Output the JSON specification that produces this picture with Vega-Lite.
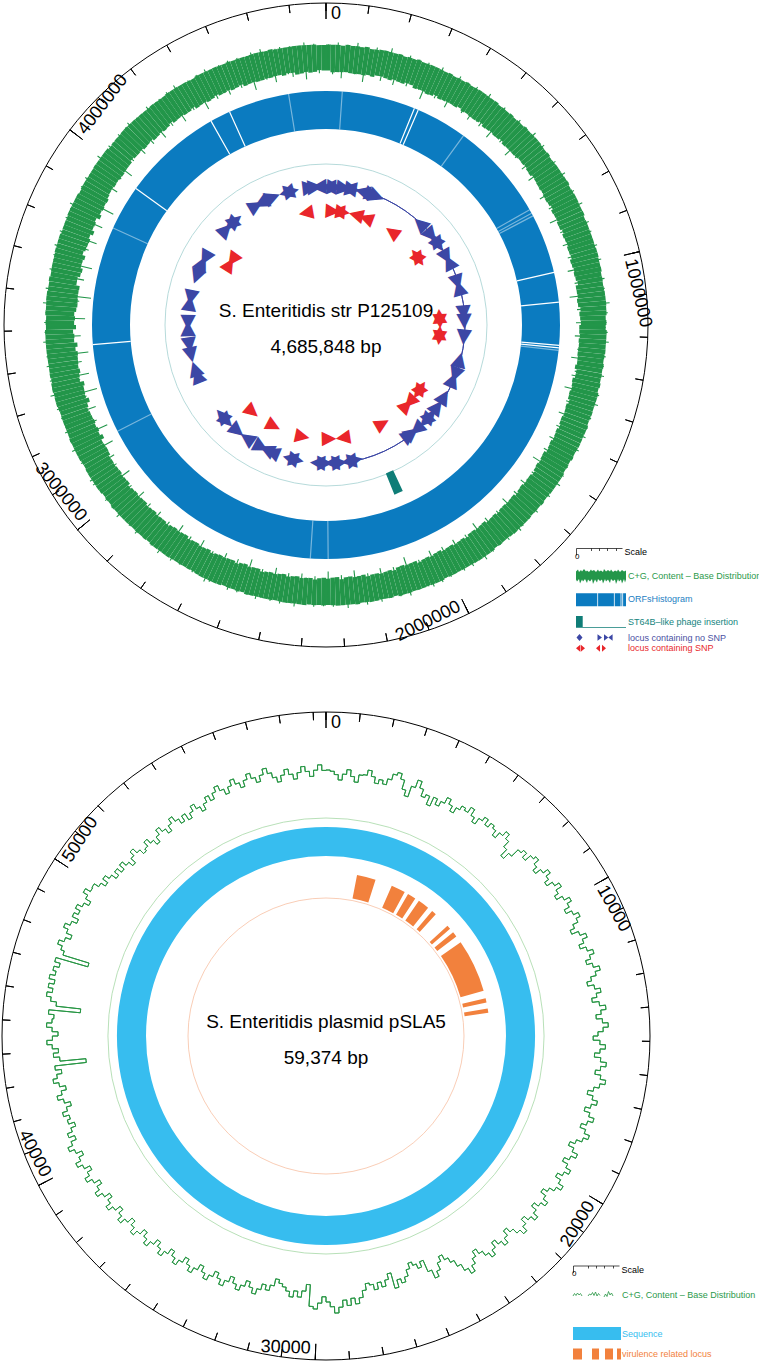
{
"$schema": "https://vega.github.io/schema/vega-lite/v6.json",
"padding": 0,
"spacing": 61,
"bounds": "flush",
"config": {"view": {"stroke": null}, "text": {"font": "Liberation Sans"}},
"resolve": {"scale": {"theta": "independent", "radius": "independent", "angle": "independent", "fill": "independent", "color": "independent", "stroke": "independent", "strokeOpacity": "independent"}},
"vconcat": [
{
"width": 650, "height": 650,
"resolve": {"scale": {"theta": "independent", "radius": "independent", "angle": "independent"}},
"layer": [
{
"data": {"values": [
{"i":0,"a":47.9,"b":56.2},{"i":1,"a":46.3,"b":55.5},{"i":2,"a":48.4,"b":56.9},{"i":3,"a":45.1,"b":55.8},{"i":4,"a":47.6,"b":56.4},{"i":5,"a":48.2,"b":55.3},{"i":6,"a":46.8,"b":57.3},{"i":7,"a":47.3,"b":55.9},{"i":8,"a":44.6,"b":56.1},{"i":9,"a":48.0,"b":55.6},
{"i":10,"a":47.2,"b":56.7},{"i":11,"a":48.5,"b":55.4},{"i":12,"a":46.0,"b":56.0},{"i":13,"a":47.8,"b":57.5},{"i":14,"a":48.3,"b":55.7},{"i":15,"a":45.7,"b":56.3},{"i":16,"a":47.4,"b":55.2},{"i":17,"a":48.1,"b":56.8},{"i":18,"a":46.6,"b":55.9},{"i":19,"a":47.7,"b":56.5},
{"i":20,"a":48.6,"b":55.8},{"i":21,"a":46.9,"b":56.6},{"i":22,"a":44.2,"b":55.5},{"i":23,"a":48.0,"b":56.1},{"i":24,"a":47.5,"b":57.0},{"i":25,"a":46.4,"b":55.6},{"i":26,"a":48.2,"b":56.2},{"i":27,"a":47.1,"b":55.3},{"i":28,"a":45.3,"b":56.9},{"i":29,"a":48.4,"b":55.7},
{"i":30,"a":47.3,"b":56.4},{"i":31,"a":48.1,"b":55.9},{"i":32,"a":46.5,"b":56.7},{"i":33,"a":47.9,"b":55.4},{"i":34,"a":45.8,"b":56.0},{"i":35,"a":48.3,"b":57.2},{"i":36,"a":47.0,"b":55.8},{"i":37,"a":46.2,"b":56.3},{"i":38,"a":48.5,"b":55.5},{"i":39,"a":47.6,"b":56.6},
{"i":40,"a":45.0,"b":55.6},{"i":41,"a":48.2,"b":56.2},{"i":42,"a":47.4,"b":55.9},{"i":43,"a":46.7,"b":56.8},{"i":44,"a":48.0,"b":55.3},{"i":45,"a":47.2,"b":56.5},{"i":46,"a":44.9,"b":55.7},{"i":47,"a":48.4,"b":57.4},{"i":48,"a":46.8,"b":56.1},{"i":49,"a":47.7,"b":55.8},
{"i":50,"a":48.3,"b":56.9},{"i":51,"a":46.1,"b":55.5},{"i":52,"a":47.8,"b":56.3},{"i":53,"a":48.1,"b":55.8},{"i":54,"a":45.6,"b":56.6},{"i":55,"a":47.5,"b":55.2},{"i":56,"a":48.6,"b":56.0},{"i":57,"a":46.9,"b":57.1},{"i":58,"a":47.2,"b":55.7},{"i":59,"a":45.4,"b":56.4},
{"i":60,"a":48.0,"b":55.9},{"i":61,"a":47.3,"b":56.7},{"i":62,"a":46.4,"b":55.4},{"i":63,"a":48.2,"b":56.2},{"i":64,"a":47.7,"b":57.3},{"i":65,"a":44.7,"b":55.8},{"i":66,"a":48.4,"b":56.1},{"i":67,"a":47.0,"b":55.6},{"i":68,"a":46.6,"b":56.8},{"i":69,"a":48.1,"b":55.3},
{"i":70,"a":47.4,"b":56.5},{"i":71,"a":45.9,"b":56.0},{"i":72,"a":48.3,"b":55.7},{"i":73,"a":47.6,"b":56.9},{"i":74,"a":46.3,"b":55.5},{"i":75,"a":48.0,"b":56.3},{"i":76,"a":47.1,"b":57.0},{"i":77,"a":45.2,"b":55.9},{"i":78,"a":48.5,"b":56.2},{"i":79,"a":47.8,"b":55.6},
{"i":80,"a":46.7,"b":56.8},{"i":81,"a":48.2,"b":55.4},{"i":82,"a":47.5,"b":56.4},{"i":83,"a":44.4,"b":55.8},{"i":84,"a":48.1,"b":56.1},{"i":85,"a":47.3,"b":57.5},{"i":86,"a":46.5,"b":55.6},{"i":87,"a":48.4,"b":56.7},{"i":88,"a":47.9,"b":55.3},{"i":89,"a":46.0,"b":56.2},
{"i":90,"a":48.3,"b":55.9},{"i":91,"a":47.6,"b":56.6},{"i":92,"a":45.7,"b":55.5},{"i":93,"a":48.0,"b":57.1},{"i":94,"a":47.2,"b":56.0},{"i":95,"a":46.8,"b":55.7},{"i":96,"a":48.5,"b":56.5},{"i":97,"a":45.1,"b":55.8},{"i":98,"a":47.7,"b":56.3},{"i":99,"a":48.2,"b":55.4},
{"i":100,"a":47.0,"b":56.9},{"i":101,"a":46.2,"b":55.6},{"i":102,"a":48.4,"b":56.2},{"i":103,"a":47.5,"b":55.9},{"i":104,"a":44.8,"b":56.7},{"i":105,"a":48.1,"b":55.3},{"i":106,"a":47.3,"b":57.2},{"i":107,"a":46.6,"b":56.0},{"i":108,"a":48.0,"b":55.5},{"i":109,"a":47.8,"b":56.4},
{"i":110,"a":45.5,"b":55.8},{"i":111,"a":48.3,"b":56.5},{"i":112,"a":47.1,"b":55.7},{"i":113,"a":46.4,"b":57.0},{"i":114,"a":48.2,"b":56.1},{"i":115,"a":47.6,"b":55.4},{"i":116,"a":45.9,"b":56.8},{"i":117,"a":48.0,"b":55.9},{"i":118,"a":47.4,"b":56.3},{"i":119,"a":46.1,"b":55.6},
{"i":120,"a":48.5,"b":56.2},{"i":121,"a":47.2,"b":55.5},{"i":122,"a":44.5,"b":56.6},{"i":123,"a":48.1,"b":55.8},{"i":124,"a":47.7,"b":57.3},{"i":125,"a":46.9,"b":56.0},{"i":126,"a":48.3,"b":55.4},{"i":127,"a":47.0,"b":56.7},{"i":128,"a":45.6,"b":55.9},{"i":129,"a":48.2,"b":56.4},
{"i":130,"a":47.5,"b":55.7},{"i":131,"a":46.3,"b":56.9},{"i":132,"a":48.0,"b":55.6},{"i":133,"a":47.8,"b":56.3},{"i":134,"a":45.2,"b":55.9},{"i":135,"a":48.4,"b":56.5},{"i":136,"a":47.1,"b":57.1},{"i":137,"a":46.7,"b":55.5},{"i":138,"a":48.2,"b":56.0},{"i":139,"a":47.3,"b":56.8},
{"i":140,"a":46.0,"b":55.4},{"i":141,"a":48.1,"b":56.2},{"i":142,"a":47.6,"b":55.8},{"i":143,"a":44.9,"b":56.6},{"i":144,"a":48.3,"b":55.5},{"i":145,"a":47.2,"b":57.4},{"i":146,"a":46.5,"b":56.1},{"i":147,"a":48.0,"b":55.7},{"i":148,"a":47.9,"b":56.9},{"i":149,"a":45.8,"b":55.3},
{"i":150,"a":48.2,"b":56.7},{"i":151,"a":47.4,"b":56.0},{"i":152,"a":46.1,"b":55.6},{"i":153,"a":48.5,"b":56.4},{"i":154,"a":47.0,"b":55.9},{"i":155,"a":45.4,"b":56.8},{"i":156,"a":48.1,"b":55.2},{"i":157,"a":47.7,"b":57.0},{"i":158,"a":46.8,"b":56.3},{"i":159,"a":48.3,"b":55.8},
{"i":160,"a":47.1,"b":56.1},{"i":161,"a":44.3,"b":55.7},{"i":162,"a":48.0,"b":57.2},{"i":163,"a":47.5,"b":55.6},{"i":164,"a":46.4,"b":56.5},{"i":165,"a":48.2,"b":55.9},{"i":166,"a":47.8,"b":56.2},{"i":167,"a":45.7,"b":55.4},{"i":168,"a":48.4,"b":56.8},{"i":169,"a":47.3,"b":56.0},
{"i":170,"a":46.6,"b":55.5},{"i":171,"a":48.1,"b":56.9},{"i":172,"a":47.2,"b":55.8},{"i":173,"a":45.0,"b":56.3},{"i":174,"a":48.3,"b":55.6},{"i":175,"a":47.6,"b":57.3},{"i":176,"a":46.2,"b":56.0},{"i":177,"a":48.0,"b":55.7},{"i":178,"a":47.4,"b":56.6},{"i":179,"a":44.8,"b":55.9},
{"i":180,"a":48.2,"b":56.4},{"i":181,"a":47.7,"b":55.3},{"i":182,"a":46.5,"b":56.7},{"i":183,"a":48.4,"b":55.9},{"i":184,"a":47.1,"b":56.2},{"i":185,"a":45.9,"b":55.6},{"i":186,"a":48.1,"b":57.1},{"i":187,"a":47.5,"b":56.0},{"i":188,"a":46.3,"b":55.5},{"i":189,"a":48.0,"b":56.8},
{"i":190,"a":47.3,"b":55.8},{"i":191,"a":45.3,"b":56.5},{"i":192,"a":48.2,"b":55.4},{"i":193,"a":47.8,"b":56.1},{"i":194,"a":46.7,"b":57.0},{"i":195,"a":48.5,"b":55.7},{"i":196,"a":47.0,"b":56.3},{"i":197,"a":44.6,"b":55.9},{"i":198,"a":48.3,"b":56.6},{"i":199,"a":47.6,"b":55.2},
{"i":200,"a":46.0,"b":56.9},{"i":201,"a":48.1,"b":55.6},{"i":202,"a":47.4,"b":56.2},{"i":203,"a":45.6,"b":55.8},{"i":204,"a":48.0,"b":56.7},{"i":205,"a":47.2,"b":57.4},{"i":206,"a":46.9,"b":55.5},{"i":207,"a":48.4,"b":56.0},{"i":208,"a":47.7,"b":56.4},{"i":209,"a":45.1,"b":55.9},
{"i":210,"a":48.3,"b":55.7},{"i":211,"a":47.5,"b":56.3},{"i":212,"a":46.3,"b":55.9},{"i":213,"a":48.1,"b":56.8},{"i":214,"a":47.0,"b":55.4},{"i":215,"a":44.7,"b":56.1},{"i":216,"a":48.2,"b":57.2},{"i":217,"a":47.8,"b":55.6},{"i":218,"a":46.5,"b":56.5},{"i":219,"a":48.5,"b":56.0},
{"i":220,"a":47.2,"b":56.2},{"i":221,"a":45.8,"b":55.5},{"i":222,"a":48.0,"b":56.9},{"i":223,"a":47.6,"b":55.8},{"i":224,"a":46.1,"b":56.4},{"i":225,"a":48.3,"b":55.7},{"i":226,"a":47.3,"b":56.0},{"i":227,"a":45.0,"b":57.3},{"i":228,"a":48.1,"b":55.9},{"i":229,"a":47.4,"b":56.6},
{"i":230,"a":46.7,"b":55.4},{"i":231,"a":48.4,"b":56.7},{"i":232,"a":47.1,"b":55.8},{"i":233,"a":44.2,"b":56.3},{"i":234,"a":48.2,"b":55.6},{"i":235,"a":47.7,"b":56.9},{"i":236,"a":46.4,"b":57.0},{"i":237,"a":48.0,"b":55.5},{"i":238,"a":45.5,"b":56.2},{"i":239,"a":47.5,"b":55.9},
{"i":240,"a":48.1,"b":56.5},{"i":241,"a":43.6,"b":55.7},{"i":242,"a":47.3,"b":56.1},{"i":243,"a":46.2,"b":57.2},{"i":244,"a":48.3,"b":55.8},{"i":245,"a":42.8,"b":56.4},{"i":246,"a":47.6,"b":55.6},{"i":247,"a":45.4,"b":56.8},{"i":248,"a":48.0,"b":56.0},{"i":249,"a":46.8,"b":55.4},
{"i":250,"a":44.1,"b":56.3},{"i":251,"a":48.2,"b":55.9},{"i":252,"a":47.0,"b":56.7},{"i":253,"a":45.9,"b":55.5},{"i":254,"a":41.9,"b":56.2},{"i":255,"a":48.4,"b":57.5},{"i":256,"a":47.5,"b":55.8},{"i":257,"a":46.6,"b":56.1},{"i":258,"a":43.3,"b":56.6},{"i":259,"a":48.1,"b":55.7},
{"i":260,"a":47.2,"b":56.0},{"i":261,"a":45.0,"b":56.8},{"i":262,"a":48.3,"b":55.6},{"i":263,"a":42.4,"b":56.4},{"i":264,"a":47.7,"b":55.9},{"i":265,"a":46.3,"b":56.2},{"i":266,"a":48.0,"b":57.1},{"i":267,"a":44.5,"b":55.7},{"i":268,"a":47.4,"b":56.5},{"i":269,"a":46.9,"b":55.8},
{"i":270,"a":48.2,"b":56.6},{"i":271,"a":43.0,"b":55.5},{"i":272,"a":47.6,"b":56.3},{"i":273,"a":46.1,"b":55.8},{"i":274,"a":48.4,"b":57.3},{"i":275,"a":45.3,"b":56.0},{"i":276,"a":41.5,"b":55.7},{"i":277,"a":47.9,"b":56.9},{"i":278,"a":46.7,"b":55.6},{"i":279,"a":48.1,"b":56.2},
{"i":280,"a":44.7,"b":55.9},{"i":281,"a":47.3,"b":56.7},{"i":282,"a":48.0,"b":55.4},{"i":283,"a":42.9,"b":56.1},{"i":284,"a":46.5,"b":56.5},{"i":285,"a":48.3,"b":55.8},{"i":286,"a":47.1,"b":57.0},{"i":287,"a":45.6,"b":56.3},{"i":288,"a":48.2,"b":55.6},{"i":289,"a":43.8,"b":56.8},
{"i":290,"a":47.5,"b":56.0},{"i":291,"a":46.2,"b":55.7},{"i":292,"a":48.1,"b":56.6},{"i":293,"a":44.0,"b":55.9},{"i":294,"a":47.8,"b":56.4},{"i":295,"a":46.8,"b":57.2},{"i":296,"a":48.4,"b":55.5},{"i":297,"a":42.6,"b":56.2},{"i":298,"a":47.2,"b":55.8},{"i":299,"a":46.4,"b":56.5},
{"i":300,"a":48.0,"b":55.6},{"i":301,"a":47.4,"b":56.8},{"i":302,"a":45.2,"b":56.1},{"i":303,"a":48.3,"b":55.7},{"i":304,"a":47.0,"b":56.3},{"i":305,"a":46.5,"b":55.9},{"i":306,"a":48.2,"b":57.4},{"i":307,"a":44.3,"b":56.0},{"i":308,"a":47.7,"b":55.5},{"i":309,"a":48.1,"b":56.6},
{"i":310,"a":46.9,"b":56.2},{"i":311,"a":48.4,"b":55.4},{"i":312,"a":47.3,"b":56.7},{"i":313,"a":45.7,"b":55.8},{"i":314,"a":48.0,"b":56.5},{"i":315,"a":47.6,"b":57.1},{"i":316,"a":46.0,"b":55.9},{"i":317,"a":48.2,"b":56.3},{"i":318,"a":47.1,"b":55.6},{"i":319,"a":44.9,"b":56.0},
{"i":320,"a":48.3,"b":56.9},{"i":321,"a":47.5,"b":55.7},{"i":322,"a":46.4,"b":56.1},{"i":323,"a":48.1,"b":56.4},{"i":324,"a":47.8,"b":55.5},{"i":325,"a":45.1,"b":56.8},{"i":326,"a":48.4,"b":55.8},{"i":327,"a":47.2,"b":57.3},{"i":328,"a":46.7,"b":56.0},{"i":329,"a":48.0,"b":55.6},
{"i":330,"a":47.3,"b":56.3},{"i":331,"a":44.6,"b":55.9},{"i":332,"a":48.2,"b":56.6},{"i":333,"a":47.6,"b":55.5},{"i":334,"a":46.2,"b":57.0},{"i":335,"a":48.5,"b":56.2},{"i":336,"a":47.0,"b":55.7},{"i":337,"a":45.8,"b":56.4},{"i":338,"a":48.1,"b":55.9},{"i":339,"a":47.4,"b":56.7},
{"i":340,"a":46.5,"b":55.8},{"i":341,"a":48.0,"b":56.5},{"i":342,"a":47.7,"b":55.6},{"i":343,"a":44.4,"b":56.1},{"i":344,"a":48.3,"b":56.9},{"i":345,"a":47.1,"b":55.4},{"i":346,"a":46.8,"b":57.2},{"i":347,"a":48.2,"b":56.0},{"i":348,"a":45.3,"b":55.7},{"i":349,"a":47.9,"b":56.3},
{"i":350,"a":48.4,"b":56.6},{"i":351,"a":47.2,"b":55.9},{"i":352,"a":46.1,"b":56.4},{"i":353,"a":48.0,"b":55.7},{"i":354,"a":47.5,"b":56.2},{"i":355,"a":44.8,"b":57.1},{"i":356,"a":48.2,"b":55.8},{"i":357,"a":47.8,"b":56.5},{"i":358,"a":46.6,"b":55.6},{"i":359,"a":48.1,"b":56.0}
]},
"resolve": {"scale": {"theta": "independent"}},
"layer": [
{
"transform": [
{"window": [{"op": "mean", "field": "a", "as": "ma"}, {"op": "mean", "field": "b", "as": "mb"}], "frame": [-2, 2], "sort": [{"field": "i", "order": "ascending"}]},
{"window": [{"op": "row_number", "as": "n"}], "sort": [{"field": "i", "order": "ascending"}]}
],
"mark": {"type": "arc"},
"encoding": {
"theta": {"field": "i", "type": "quantitative", "stack": null, "scale": {"domain": [0, 360]}},
"theta2": {"field": "n"},
"radius": {"field": "mb", "type": "quantitative", "scale": {"type": "linear", "zero": false, "domain": [36, 64], "range": [220, 304]}},
"radius2": {"field": "ma"},
"fill": {"datum": "C+G, Content – Base Distribution", "type": "nominal",
"scale": {"domain": ["C+G, Content – Base Distribution", "ORFsHistogram", "ST64B–like phage insertion"], "range": ["#23964a", "#0b7bc0", "#0f7d77"]},
"legend": {"orient": "none", "legendX": 570.5, "legendY": 571, "title": null, "padding": 0, "rowPadding": 8.8, "symbolSize": 4, "symbolStrokeWidth": 0, "labelOffset": 47.5, "labelFont": "Liberation Sans", "labelFontSize": 9, "labelLimit": 300,
"symbolType": {"expr": "datum.value == 'ORFsHistogram' ? 'M0,-6H21.3V7H0Z M22.1,-6H37.9V7H22.1Z M38.7,-6H44.6V7H38.7Z M45.4,-6H46.3V7H45.4Z M47.1,-6H50V7H47.1Z' : indexof(datum.value, 'ST64B') == 0 ? 'M0,-6H6.7V5.6H0Z M6.7,5H50V5.6H6.7Z' : 'M0,-4L2,-6L3,-3.5L5,-5.5L6,-4L8,-6.5L10,-4L11,-5L13,-3.5L15,-6L16,-4.5L18,-5.5L20,-3.5L22,-6L23,-4L25,-5L27,-3.5L28,-6.5L30,-4L32,-5.5L34,-4L35,-6L37,-3.5L39,-5L41,-4L42,-6L44,-3.5L46,-5.5L48,-4L50,-5L50,4L49,7L48,3.5L46,8L45,4L43,6L42,3.5L40,8.5L39,4L37,5.5L35,3.5L34,7.5L32,4L30,6L29,3.5L27,8L26,4L24,5.5L22,3.5L21,7L19,4L17,8.5L16,3.5L14,6L12,4L11,7.5L9,3.5L7,6L6,4L4,8L3,3.5L1,6L0,4Z'"},
"labelColor": {"expr": "datum.value == 'ORFsHistogram' ? '#2380c2' : indexof(datum.value, 'ST64B') == 0 ? '#14847e' : '#2b9a4b'"}}}
}
},
{
"mark": {"type": "arc", "fill": "transparent", "stroke": "#23964a", "strokeWidth": 1.1},
"encoding": {
"theta": {"field": "i", "type": "quantitative", "stack": null, "scale": {"domain": [-0.5, 359.5]}},
"theta2": {"field": "i"},
"radius": {"field": "b", "type": "quantitative"},
"radius2": {"field": "a"}
}
}
]
},
{
"data": {"values": [{}]},
"mark": {"type": "arc", "theta": 0, "theta2": 6.2832, "radius": 234, "radius2": 196},
"encoding": {"fill": {"datum": "ORFsHistogram", "type": "nominal"}}
},
{
"data": {"values": [
{"p":289000,"k":"w"},{"p":302000,"k":"w"},{"p":1002200,"k":"w"},{"p":1098600,"k":"w"},{"p":1236500,"k":"w"},{"p":1244400,"k":"w"},{"p":3451900,"k":"w"},{"p":3979000,"k":"w"},{"p":4303000,"k":"w"},{"p":4369000,"k":"w"},
{"p":468600,"k":"f"},{"p":787500,"k":"f"},{"p":800500,"k":"f"},{"p":809600,"k":"f"},{"p":1252200,"k":"f"},{"p":3833300,"k":"f"},{"p":3163000,"k":"f"},{"p":52000,"k":"f"},{"p":4566000,"k":"f"},{"p":2393000,"k":"f"},{"p":2336000,"k":"f"}
]},
"mark": {"type": "arc", "radius": 234, "radius2": 196, "fill": "transparent", "stroke": "#ffffff", "strokeWidth": 1.2},
"encoding": {
"theta": {"field": "p", "type": "quantitative", "stack": null, "scale": {"domain": [0, 4685848]}},
"theta2": {"field": "p"},
"strokeOpacity": {"field": "k", "type": "nominal", "scale": {"domain": ["w", "f"], "range": [1, 0.45]}, "legend": null}
}
},
{
"data": {"values": [{}]},
"mark": {"type": "arc", "theta": 0, "theta2": 6.2832, "radius": 161, "radius2": 0, "fill": "transparent", "stroke": "#a3d0d0", "strokeWidth": 0.8},
"encoding": {}
},
{
"data": {"values": [{"p1": 2020000, "p2": 2057000}]},
"mark": {"type": "arc", "radius": 183, "radius2": 160},
"encoding": {
"theta": {"field": "p1", "type": "quantitative", "stack": null, "scale": {"domain": [0, 4685848]}},
"theta2": {"field": "p2"},
"fill": {"datum": "ST64B–like phage insertion", "type": "nominal"}
}
},
{
"data": {"values": [{"p1": 273000, "p2": 2200000}]},
"mark": {"type": "arc", "radius": 139, "radius2": 139, "fill": "transparent", "stroke": "#3c47a5", "strokeWidth": 1},
"encoding": {
"theta": {"field": "p1", "type": "quantitative", "stack": null, "scale": {"domain": [0, 4685848]}},
"theta2": {"field": "p2"}
}
},
{
"data": {"values": [
{"p":4600000,"g":"▶"},{"p":4627000,"g":"▶"},{"p":4647000,"g":"◀"},{"p":13000,"g":"◀"},{"p":46000,"g":"▶"},{"p":98000,"g":"▶"},{"p":124000,"g":"◀"},{"p":143200,"g":"▶"},{"p":199000,"g":"◀"},{"p":254000,"g":"▶"},{"p":280000,"g":"▶"},
{"p":560000,"g":"◀"},{"p":644300,"g":"▶"},{"p":676800,"g":"◀"},{"p":709400,"g":"▶"},{"p":787500,"g":"▶"},{"p":820000,"g":"◀"},{"p":937200,"g":"▶"},{"p":969700,"g":"◀"},{"p":1106400,"g":"▶"},{"p":1151900,"g":"▶"},{"p":1236500,"g":"▶"},
{"p":1362800,"g":"◀"},{"p":1444800,"g":"▶"},{"p":1477300,"g":"◀"},{"p":1580200,"g":"◀"},{"p":1645300,"g":"◀"},{"p":1705100,"g":"◀"},{"p":1744200,"g":"▶"},{"p":1809300,"g":"▶"},{"p":1841800,"g":"◀"},{"p":1861300,"g":"◀"},
{"p":2186700,"g":"◀"},{"p":2219300,"g":"▶"},{"p":2271300,"g":"◀"},{"p":2310400,"g":"▶"},{"p":2349400,"g":"◀"},{"p":2388500,"g":"▶"},{"p":2505600,"g":"◀"},{"p":2538200,"g":"▶"},{"p":2642300,"g":"▶"},{"p":2674800,"g":"▶"},{"p":2707400,"g":"◀"},
{"p":2797200,"g":"▶"},{"p":2863600,"g":"◀"},{"p":2941700,"g":"◀"},{"p":2980700,"g":"▶"},{"p":3234500,"g":"▶"},{"p":3273600,"g":"▶"},{"p":3351700,"g":"◀"},{"p":3406400,"g":"◀"},{"p":3494900,"g":"▶"},{"p":3527400,"g":"◀"},
{"p":3631500,"g":"▶"},{"p":3664100,"g":"◀"},{"p":3782500,"g":"◀"},{"p":3859300,"g":"▶"},{"p":3891900,"g":"◀"},{"p":4080600,"g":"▶"},{"p":4119600,"g":"◀"},{"p":4152200,"g":"▶"},{"p":4288900,"g":"▶"},{"p":4321400,"g":"◀"},{"p":4390400,"g":"▶"},{"p":4471100,"g":"◀"},{"p":4497100,"g":"▶"}
]},
"mark": {"type": "text", "font": "DejaVu Sans", "fontSize": 20, "align": "center", "baseline": "middle"},
"encoding": {
"theta": {"field": "p", "type": "quantitative", "stack": null, "scale": {"domain": [0, 4685848]}},
"radius": {"value": 139},
"angle": {"field": "p", "type": "quantitative", "scale": {"domain": [0, 4685848], "range": [0, 360]}},
"text": {"field": "g"},
"color": {"datum": "locus containing no SNP", "type": "nominal",
"scale": {"domain": ["locus containing no SNP", "locus containing SNP"], "range": ["#3c47a5", "#e9262b"]},
"legend": {"orient": "none", "legendX": 570.5, "legendY": 633, "title": null, "padding": 0, "rowPadding": 0.8, "symbolSize": 4, "symbolStrokeWidth": 0, "symbolOpacity": 1, "labelOffset": 47.5, "labelFont": "Liberation Sans", "labelFontSize": 9, "labelLimit": 300,
"symbolType": {"expr": "datum.value == 'locus containing SNP' ? 'M0,0L4.2,-3.5L4.2,3.5Z M9,0L4.8,-3.5L4.8,3.5Z M20,0L24,-3.5L24,3.5Z M30,0L26,-3.5L26,3.5Z' : 'M3.5,-3.5L6.5,0L3.5,3.5L0.5,0Z M21.5,-3.3L26,0L21.5,3.3Z M28,-3.3L32.3,0L28,3.3Z M36.6,-3.3L32.3,0L36.6,3.3Z'"},
"labelColor": {"expr": "datum.value == 'locus containing SNP' ? '#e8282c' : '#4a4fa3'"}}}
}
},
{
"data": {"values": [
{"p":4555700,"g":"◀"},{"p":45600,"g":"▶"},{"p":78100,"g":"◀"},{"p":110600,"g":"▶"},{"p":199100,"g":"◀"},{"p":268100,"g":"◀"},{"p":462100,"g":"◀"},{"p":683400,"g":"◀"},{"p":715900,"g":"▶"},
{"p":1112900,"g":"◀"},{"p":1145400,"g":"▶"},{"p":1223500,"g":"◀"},{"p":1256100,"g":"▶"},{"p":1607500,"g":"◀"},{"p":1640000,"g":"▶"},{"p":1724700,"g":"▶"},{"p":1757200,"g":"◀"},{"p":1956300,"g":"◀"},
{"p":2231000,"g":"▶"},{"p":2323400,"g":"◀"},{"p":2499100,"g":"◀"},{"p":2700900,"g":"◀"},{"p":2868800,"g":"◀"},{"p":3930900,"g":"▶"},{"p":3970000,"g":"◀"}
]},
"mark": {"type": "text", "font": "DejaVu Sans", "fontSize": 19, "align": "center", "baseline": "middle"},
"encoding": {
"theta": {"field": "p", "type": "quantitative", "stack": null, "scale": {"domain": [0, 4685848]}},
"radius": {"value": 115},
"angle": {"field": "p", "type": "quantitative", "scale": {"domain": [0, 4685848], "range": [0, 360]}},
"text": {"field": "g"},
"color": {"datum": "locus containing SNP", "type": "nominal"}
}
},
{
"data": {"values": [{}]},
"mark": {"type": "arc", "theta": 0, "theta2": 6.2832, "radius": 322, "radius2": 0, "fill": "transparent", "strokeWidth": 1},
"encoding": {
"stroke": {"datum": "Scale", "type": "nominal", "scale": {"domain": ["Scale"], "range": ["#000000"]},
"legend": {"orient": "none", "legendX": 574, "legendY": 547.5, "title": "0", "titleOrient": "left", "titleFont": "Liberation Sans", "titleFontSize": 8, "titleFontWeight": "normal", "titlePadding": 1, "titleBaseline": "top", "padding": 0, "symbolSize": 4, "symbolStrokeWidth": 0.7, "symbolFillColor": "transparent", "symbolStrokeColor": "#000000", "symbolType": "M-9,-3.5V3.5M-9,-3.5H37M6,-3.5V-1M14,-3.5V-1M22,-3.5V-1M31,-3.5V-1", "labelOffset": 34.5, "labelFont": "Liberation Sans", "labelFontSize": 9, "labelColor": "#000000"}}
}
},
{
"data": {"values": [
{"p":0},{"p":100000},{"p":200000},{"p":300000},{"p":400000},{"p":500000},{"p":600000},{"p":700000},{"p":800000},{"p":900000},
{"p":1000000},{"p":1100000},{"p":1200000},{"p":1300000},{"p":1400000},{"p":1500000},{"p":1600000},{"p":1700000},{"p":1800000},{"p":1900000},
{"p":2000000},{"p":2100000},{"p":2200000},{"p":2300000},{"p":2400000},{"p":2500000},{"p":2600000},{"p":2700000},{"p":2800000},{"p":2900000},
{"p":3000000},{"p":3100000},{"p":3200000},{"p":3300000},{"p":3400000},{"p":3500000},{"p":3600000},{"p":3700000},{"p":3800000},{"p":3900000},
{"p":4000000},{"p":4100000},{"p":4200000},{"p":4300000},{"p":4400000},{"p":4500000},{"p":4600000}
]},
"mark": {"type": "arc", "radius": 322, "radius2": 314, "fill": "transparent", "stroke": "#000000", "strokeWidth": 1},
"encoding": {
"theta": {"field": "p", "type": "quantitative", "stack": null, "scale": {"domain": [0, 4685848]}},
"theta2": {"field": "p"}
}
},
{
"data": {"values": [{"p":0},{"p":1000000},{"p":2000000},{"p":3000000},{"p":4000000}]},
"mark": {"type": "arc", "radius": 322, "radius2": 306, "fill": "transparent", "stroke": "#000000", "strokeWidth": 1},
"encoding": {
"theta": {"field": "p", "type": "quantitative", "stack": null, "scale": {"domain": [0, 4685848]}},
"theta2": {"field": "p"}
}
},
{
"data": {"values": [{"p":0},{"p":1000000},{"p":4000000}]},
"mark": {"type": "text", "align": "left", "baseline": "top", "dx": 5, "fontSize": 18, "font": "Liberation Sans", "color": "#000000"},
"encoding": {
"theta": {"field": "p", "type": "quantitative", "stack": null, "scale": {"domain": [0, 4685848]}},
"radius": {"value": 320},
"angle": {"field": "p", "type": "quantitative", "scale": {"domain": [0, 4685848], "range": [0, 360]}},
"text": {"field": "p", "type": "quantitative", "format": "d"}
}
},
{
"data": {"values": [{"p":2000000},{"p":3000000}]},
"mark": {"type": "text", "align": "right", "baseline": "bottom", "dx": -5, "fontSize": 18, "font": "Liberation Sans", "color": "#000000"},
"encoding": {
"theta": {"field": "p", "type": "quantitative", "stack": null, "scale": {"domain": [0, 4685848]}},
"radius": {"value": 320},
"angle": {"field": "p", "type": "quantitative", "scale": {"domain": [0, 4685848], "range": [-180, 180]}},
"text": {"field": "p", "type": "quantitative", "format": "d"}
}
},
{
"data": {"values": [{"t": "S. Enteritidis str P125109"}]},
"mark": {"type": "text", "fontSize": 19, "font": "Liberation Sans", "baseline": "alphabetic", "dy": -8, "color": "#000000"},
"encoding": {"text": {"field": "t"}}
},
{
"data": {"values": [{"t": "4,685,848 bp"}]},
"mark": {"type": "text", "fontSize": 19, "font": "Liberation Sans", "baseline": "alphabetic", "dy": 28, "color": "#000000"},
"encoding": {"text": {"field": "t"}}
}
]
},
{
"width": 650, "height": 650,
"resolve": {"scale": {"theta": "independent", "radius": "independent", "angle": "independent"}},
"layer": [
{
"data": {"values": [
{"i":0,"v":51.5},{"i":1,"v":51.2},{"i":2,"v":50.4},{"i":3,"v":49.1},{"i":4,"v":50.6},{"i":5,"v":51.8},{"i":6,"v":50.2},{"i":7,"v":48.9},{"i":8,"v":50.8},{"i":9,"v":51.0},
{"i":10,"v":52.3},{"i":11,"v":50.9},{"i":12,"v":49.4},{"i":13,"v":50.5},{"i":14,"v":49.6},{"i":15,"v":51.1},{"i":16,"v":52.6},{"i":17,"v":53.3},{"i":18,"v":51.9},{"i":19,"v":49.6},
{"i":20,"v":48.2},{"i":21,"v":51.0},{"i":22,"v":53.0},{"i":23,"v":51.3},{"i":24,"v":49.5},{"i":25,"v":50.3},{"i":26,"v":48.1},{"i":27,"v":50.5},{"i":28,"v":49.0},{"i":29,"v":50.3},
{"i":30,"v":51.9},{"i":31,"v":50.6},{"i":32,"v":49.2},{"i":33,"v":50.7},{"i":34,"v":51.8},{"i":35,"v":51.2},{"i":36,"v":52.7},{"i":37,"v":51.0},{"i":38,"v":49.8},{"i":39,"v":51.5},
{"i":40,"v":52.6},{"i":41,"v":51.1},{"i":42,"v":52.3},{"i":43,"v":51.6},{"i":44,"v":50.2},{"i":45,"v":51.8},{"i":46,"v":53.1},{"i":47,"v":51.7},{"i":48,"v":49.9},{"i":49,"v":47.8},
{"i":50,"v":49.6},{"i":51,"v":51.9},{"i":52,"v":52.8},{"i":53,"v":51.4},{"i":54,"v":53.2},{"i":55,"v":54.0},{"i":56,"v":52.5},{"i":57,"v":51.3},{"i":58,"v":52.9},{"i":59,"v":54.3},
{"i":60,"v":53.0},{"i":61,"v":51.8},{"i":62,"v":53.4},{"i":63,"v":54.7},{"i":64,"v":53.1},{"i":65,"v":52.0},{"i":66,"v":53.6},{"i":67,"v":55.0},{"i":68,"v":53.8},{"i":69,"v":52.4},
{"i":70,"v":53.9},{"i":71,"v":55.2},{"i":72,"v":54.1},{"i":73,"v":52.7},{"i":74,"v":51.5},{"i":75,"v":53.3},{"i":76,"v":54.8},{"i":77,"v":53.5},{"i":78,"v":52.2},{"i":79,"v":53.7},
{"i":80,"v":55.1},{"i":81,"v":53.9},{"i":82,"v":52.6},{"i":83,"v":54.0},{"i":84,"v":55.5},{"i":85,"v":54.2},{"i":86,"v":52.8},{"i":87,"v":51.6},{"i":88,"v":53.2},{"i":89,"v":54.6},
{"i":90,"v":53.4},{"i":91,"v":52.1},{"i":92,"v":53.8},{"i":93,"v":55.3},{"i":94,"v":54.0},{"i":95,"v":52.7},{"i":96,"v":54.2},{"i":97,"v":55.6},{"i":98,"v":54.3},{"i":99,"v":53.0},
{"i":100,"v":51.8},{"i":101,"v":53.5},{"i":102,"v":54.9},{"i":103,"v":53.6},{"i":104,"v":52.3},{"i":105,"v":53.9},{"i":106,"v":55.4},{"i":107,"v":54.1},{"i":108,"v":52.9},{"i":109,"v":54.4},
{"i":110,"v":55.8},{"i":111,"v":54.5},{"i":112,"v":53.2},{"i":113,"v":51.9},{"i":114,"v":53.4},{"i":115,"v":54.8},{"i":116,"v":53.5},{"i":117,"v":52.2},{"i":118,"v":53.7},{"i":119,"v":55.1},
{"i":120,"v":53.8},{"i":121,"v":52.5},{"i":122,"v":54.0},{"i":123,"v":55.4},{"i":124,"v":54.2},{"i":125,"v":52.8},{"i":126,"v":51.5},{"i":127,"v":53.0},{"i":128,"v":54.5},{"i":129,"v":53.2},
{"i":130,"v":51.9},{"i":131,"v":53.4},{"i":132,"v":54.8},{"i":133,"v":53.6},{"i":134,"v":52.3},{"i":135,"v":53.8},{"i":136,"v":55.2},{"i":137,"v":53.9},{"i":138,"v":52.6},{"i":139,"v":51.4},
{"i":140,"v":52.9},{"i":141,"v":54.3},{"i":142,"v":53.0},{"i":143,"v":51.7},{"i":144,"v":53.2},{"i":145,"v":54.6},{"i":146,"v":53.3},{"i":147,"v":52.0},{"i":148,"v":53.5},{"i":149,"v":54.9},
{"i":150,"v":53.6},{"i":151,"v":52.2},{"i":152,"v":50.9},{"i":153,"v":52.4},{"i":154,"v":53.8},{"i":155,"v":52.5},{"i":156,"v":51.2},{"i":157,"v":52.7},{"i":158,"v":54.1},{"i":159,"v":52.8},
{"i":160,"v":51.5},{"i":161,"v":50.1},{"i":162,"v":51.6},{"i":163,"v":53.0},{"i":164,"v":54.6},{"i":165,"v":53.1},{"i":166,"v":51.3},{"i":167,"v":49.6},{"i":168,"v":48.3},{"i":169,"v":46.9},
{"i":170,"v":48.2},{"i":171,"v":50.0},{"i":172,"v":51.4},{"i":173,"v":49.2},{"i":174,"v":46.1},{"i":175,"v":47.5},{"i":176,"v":46.3},{"i":177,"v":45.4},{"i":178,"v":46.8},{"i":179,"v":48.4},
{"i":180,"v":49.6},{"i":181,"v":48.5},{"i":182,"v":50.4},{"i":183,"v":46.4},{"i":184,"v":47.8},{"i":185,"v":49.3},{"i":186,"v":48.0},{"i":187,"v":49.6},{"i":188,"v":48.2},{"i":189,"v":47.7},
{"i":190,"v":49.3},{"i":191,"v":51.0},{"i":192,"v":52.4},{"i":193,"v":50.9},{"i":194,"v":52.6},{"i":195,"v":51.2},{"i":196,"v":52.9},{"i":197,"v":54.3},{"i":198,"v":52.7},{"i":199,"v":51.5},
{"i":200,"v":50.2},{"i":201,"v":51.8},{"i":202,"v":53.3},{"i":203,"v":52.7},{"i":204,"v":47.3},{"i":205,"v":49.0},{"i":206,"v":50.6},{"i":207,"v":49.2},{"i":208,"v":50.8},{"i":209,"v":49.5},
{"i":210,"v":48.6},{"i":211,"v":47.9},{"i":212,"v":47.0},{"i":213,"v":48.8},{"i":214,"v":50.2},{"i":215,"v":49.0},{"i":216,"v":50.5},{"i":217,"v":51.9},{"i":218,"v":50.6},{"i":219,"v":49.3},
{"i":220,"v":50.8},{"i":221,"v":52.2},{"i":222,"v":51.0},{"i":223,"v":49.6},{"i":224,"v":51.1},{"i":225,"v":52.6},{"i":226,"v":51.3},{"i":227,"v":50.0},{"i":228,"v":51.5},{"i":229,"v":52.9},
{"i":230,"v":51.6},{"i":231,"v":50.2},{"i":232,"v":51.7},{"i":233,"v":53.1},{"i":234,"v":51.8},{"i":235,"v":50.5},{"i":236,"v":52.0},{"i":237,"v":53.4},{"i":238,"v":52.1},{"i":239,"v":50.8},
{"i":240,"v":52.3},{"i":241,"v":53.7},{"i":242,"v":52.4},{"i":243,"v":51.1},{"i":244,"v":52.6},{"i":245,"v":54.0},{"i":246,"v":52.7},{"i":247,"v":51.4},{"i":248,"v":52.9},{"i":249,"v":54.2},
{"i":250,"v":52.8},{"i":251,"v":51.5},{"i":252,"v":53.0},{"i":253,"v":54.4},{"i":254,"v":53.1},{"i":255,"v":51.8},{"i":256,"v":53.3},{"i":257,"v":54.6},{"i":258,"v":53.2},{"i":259,"v":51.9},
{"i":260,"v":53.4},{"i":261,"v":54.8},{"i":262,"v":53.5},{"i":263,"v":52.1},{"i":264,"v":53.6},{"i":265,"v":55.0},{"i":266,"v":53.7},{"i":267,"v":52.4},{"i":268,"v":53.9},{"i":269,"v":55.2},
{"i":270,"v":53.8},{"i":271,"v":52.5},{"i":272,"v":54.0},{"i":273,"v":55.3},{"i":274,"v":54.0},{"i":275,"v":52.6},{"i":276,"v":54.1},{"i":277,"v":52.8},{"i":278,"v":51.5},{"i":279,"v":53.0},
{"i":280,"v":52.2},{"i":281,"v":53.6},{"i":282,"v":52.3},{"i":283,"v":51.0},{"i":284,"v":52.5},{"i":285,"v":53.9},{"i":286,"v":52.6},{"i":287,"v":51.3},{"i":288,"v":52.8},{"i":289,"v":54.1},
{"i":290,"v":53.0},{"i":291,"v":51.7},{"i":292,"v":53.2},{"i":293,"v":45.3},{"i":294,"v":51.8},{"i":295,"v":53.3},{"i":296,"v":52.0},{"i":297,"v":53.5},{"i":298,"v":54.8},{"i":299,"v":53.4},
{"i":300,"v":52.0},{"i":301,"v":53.5},{"i":302,"v":54.9},{"i":303,"v":53.6},{"i":304,"v":53.2},{"i":305,"v":54.6},{"i":306,"v":46.7},{"i":307,"v":52.9},{"i":308,"v":54.4},{"i":309,"v":55.6},
{"i":310,"v":54.3},{"i":311,"v":55.5},{"i":312,"v":54.2},{"i":313,"v":55.7},{"i":314,"v":54.4},{"i":315,"v":55.2},{"i":316,"v":53.9},{"i":317,"v":55.3},{"i":318,"v":47.0},{"i":319,"v":53.8},
{"i":320,"v":54.7},{"i":321,"v":55.9},{"i":322,"v":54.6},{"i":323,"v":53.3},{"i":324,"v":54.8},{"i":325,"v":56.0},{"i":326,"v":54.7},{"i":327,"v":53.4},{"i":328,"v":55.1},{"i":329,"v":54.0},
{"i":330,"v":55.3},{"i":331,"v":54.0},{"i":332,"v":52.7},{"i":333,"v":54.2},{"i":334,"v":55.5},{"i":335,"v":54.1},{"i":336,"v":54.3},{"i":337,"v":53.0},{"i":338,"v":51.7},{"i":339,"v":53.2},
{"i":340,"v":52.0},{"i":341,"v":50.6},{"i":342,"v":51.9},{"i":343,"v":50.5},{"i":344,"v":52.0},{"i":345,"v":50.7},{"i":346,"v":49.4},{"i":347,"v":50.9},{"i":348,"v":52.2},{"i":349,"v":50.8},
{"i":350,"v":49.5},{"i":351,"v":50.1},{"i":352,"v":51.5},{"i":353,"v":50.2},{"i":354,"v":48.9},{"i":355,"v":50.4},{"i":356,"v":51.8},{"i":357,"v":50.5},{"i":358,"v":49.2},{"i":359,"v":50.7},
{"i":360,"v":52.0},{"i":361,"v":50.6},{"i":362,"v":49.3},{"i":363,"v":50.8},{"i":364,"v":49.0},{"i":365,"v":50.3},{"i":366,"v":51.7},{"i":367,"v":50.4},{"i":368,"v":49.1},{"i":369,"v":50.6},
{"i":370,"v":51.9},{"i":371,"v":50.5},{"i":372,"v":52.0},{"i":373,"v":53.2},{"i":374,"v":51.8},{"i":375,"v":50.4},{"i":376,"v":51.9},{"i":377,"v":53.3},{"i":378,"v":51.9},{"i":379,"v":50.6},
{"i":380,"v":52.1},{"i":381,"v":53.4},{"i":382,"v":52.0},{"i":383,"v":50.7},{"i":384,"v":52.2},{"i":385,"v":53.6},{"i":386,"v":52.2},{"i":387,"v":50.9},{"i":388,"v":49.6},{"i":389,"v":51.1},
{"i":390,"v":52.4},{"i":391,"v":51.0},{"i":392,"v":49.7},{"i":393,"v":51.2},{"i":394,"v":52.6},{"i":395,"v":51.3},{"i":396,"v":50.0},{"i":397,"v":51.5},{"i":398,"v":52.8},{"i":399,"v":51.4},
{"i":400,"v":51.5}
]},
"transform": [
{"window": [{"op": "lead", "field": "v", "as": "w"}, {"op": "row_number", "as": "n"}], "sort": [{"field": "i", "order": "ascending"}]},
{"filter": "datum.w != null"}
],
"layer": [
{
"mark": {"type": "arc", "filled": false, "fill": "transparent", "strokeWidth": 1},
"encoding": {
"theta": {"field": "i", "type": "quantitative", "stack": null, "scale": {"domain": [0, 400]}},
"theta2": {"field": "n"},
"radius": {"field": "v", "type": "quantitative", "scale": {"type": "linear", "zero": false, "domain": [40, 60], "range": [220, 300]}},
"radius2": {"field": "v"},
"color": {"datum": "C+G, Content – Base Distribution", "type": "nominal", "scale": {"domain": ["C+G, Content – Base Distribution"], "range": ["#279644"]},
"legend": {"orient": "none", "legendX": 567.5, "legendY": 579.5, "title": null, "padding": 0, "symbolSize": 4, "symbolStrokeWidth": 0.8, "symbolFillColor": "transparent", "symbolStrokeColor": "#279644", "labelOffset": 44.5, "labelFont": "Liberation Sans", "labelFontSize": 9, "labelLimit": 300, "labelColor": "#2b9a4b",
"symbolType": "M0,1L1.5,-1.5L3,0.5L4.5,-2L6,0L7.5,-1.5L9,1M15,1L16.5,-1L18,0L19.5,-2.5L21,0.5L22.5,-3L24,1L25.5,-1.5L27,0.5M31,2L32.5,-1L34,1.5L35.5,-3.5L37,0L38.5,-2L40,1"}}
}
},
{
"mark": {"type": "arc", "fill": "transparent", "stroke": "#279644", "strokeWidth": 1},
"encoding": {
"theta": {"field": "n", "type": "quantitative", "stack": null, "scale": {"domain": [0, 400]}},
"theta2": {"field": "n"},
"radius": {"field": "v", "type": "quantitative"},
"radius2": {"field": "w"}
}
}
]
},
{
"data": {"values": [{}]},
"mark": {"type": "arc", "theta": 0, "theta2": 6.2832, "radius": 218, "radius2": 0, "fill": "transparent", "stroke": "#9ad39a", "strokeWidth": 0.7},
"encoding": {}
},
{
"data": {"values": [{}]},
"mark": {"type": "arc", "theta": 0, "theta2": 6.2832, "radius": 209, "radius2": 180},
"encoding": {"fill": {"datum": "Sequence", "type": "nominal",
"scale": {"domain": ["Sequence", "virulence related locus"], "range": ["#37bdef", "#f2813d"]},
"legend": {"orient": "none", "legendX": 567.5, "legendY": 618, "title": null, "padding": 0, "rowPadding": 8.4, "symbolSize": 4, "symbolStrokeWidth": 0, "labelOffset": 44.5, "labelFont": "Liberation Sans", "labelFontSize": 9, "labelLimit": 300,
"symbolType": {"expr": "datum.value == 'Sequence' ? 'M0,-6.5H48V6.5H0Z' : 'M0,-5.5H9V5.5H0Z M19,-5.5H26V5.5H19Z M32,-5.5H40V5.5H32Z M44,-5.5H48V5.5H44Z'"},
"labelColor": {"expr": "datum.value == 'Sequence' ? '#37bdef' : '#f2813d'"}}}}
},
{
"data": {"values": [
{"p1":1800,"p2":2900},{"p1":3900,"p2":4730},{"p1":4950,"p2":5440},{"p1":5690,"p2":6350},{"p1":6650,"p2":6930},{"p1":7880,"p2":8110},{"p1":8380,"p2":8680},{"p1":9100,"p2":12200},{"p1":12650,"p2":12900},{"p1":13250,"p2":13500}
]},
"mark": {"type": "arc", "radius": 164, "radius2": 140},
"encoding": {
"theta": {"field": "p1", "type": "quantitative", "stack": null, "scale": {"domain": [0, 59374]}},
"theta2": {"field": "p2"},
"fill": {"datum": "virulence related locus", "type": "nominal"}
}
},
{
"data": {"values": [{}]},
"mark": {"type": "arc", "theta": 0, "theta2": 6.2832, "radius": 138, "radius2": 0, "fill": "transparent", "stroke": "#f6b896", "strokeWidth": 0.7},
"encoding": {}
},
{
"data": {"values": [{}]},
"mark": {"type": "arc", "theta": 0, "theta2": 6.2832, "radius": 324, "radius2": 0, "fill": "transparent", "strokeWidth": 1},
"encoding": {
"stroke": {"datum": "Scale", "type": "nominal", "scale": {"domain": ["Scale"], "range": ["#000000"]},
"legend": {"orient": "none", "legendX": 571, "legendY": 554, "title": "0", "titleOrient": "left", "titleFont": "Liberation Sans", "titleFontSize": 8, "titleFontWeight": "normal", "titlePadding": 1, "titleBaseline": "top", "padding": 0, "symbolSize": 4, "symbolStrokeWidth": 0.7, "symbolFillColor": "transparent", "symbolStrokeColor": "#000000", "symbolType": "M-9,-3.5V3.5M-9,-3.5H37M6,-3.5V-1M14,-3.5V-1M22,-3.5V-1M31,-3.5V-1", "labelOffset": 34.5, "labelFont": "Liberation Sans", "labelFontSize": 9, "labelColor": "#000000"}}
}
},
{
"data": {"values": [
{"p":0},{"p":1000},{"p":2000},{"p":3000},{"p":4000},{"p":5000},{"p":6000},{"p":7000},{"p":8000},{"p":9000},
{"p":10000},{"p":11000},{"p":12000},{"p":13000},{"p":14000},{"p":15000},{"p":16000},{"p":17000},{"p":18000},{"p":19000},
{"p":20000},{"p":21000},{"p":22000},{"p":23000},{"p":24000},{"p":25000},{"p":26000},{"p":27000},{"p":28000},{"p":29000},
{"p":30000},{"p":31000},{"p":32000},{"p":33000},{"p":34000},{"p":35000},{"p":36000},{"p":37000},{"p":38000},{"p":39000},
{"p":40000},{"p":41000},{"p":42000},{"p":43000},{"p":44000},{"p":45000},{"p":46000},{"p":47000},{"p":48000},{"p":49000},
{"p":50000},{"p":51000},{"p":52000},{"p":53000},{"p":54000},{"p":55000},{"p":56000},{"p":57000},{"p":58000},{"p":59000}
]},
"mark": {"type": "arc", "radius": 324, "radius2": 316, "fill": "transparent", "stroke": "#000000", "strokeWidth": 1},
"encoding": {
"theta": {"field": "p", "type": "quantitative", "stack": null, "scale": {"domain": [0, 59374]}},
"theta2": {"field": "p"}
}
},
{
"data": {"values": [{"p":0},{"p":10000},{"p":20000},{"p":30000},{"p":40000},{"p":50000}]},
"mark": {"type": "arc", "radius": 324, "radius2": 308, "fill": "transparent", "stroke": "#000000", "strokeWidth": 1},
"encoding": {
"theta": {"field": "p", "type": "quantitative", "stack": null, "scale": {"domain": [0, 59374]}},
"theta2": {"field": "p"}
}
},
{
"data": {"values": [{"p":0},{"p":10000},{"p":50000}]},
"mark": {"type": "text", "align": "left", "baseline": "top", "dx": 5, "fontSize": 18, "font": "Liberation Sans", "color": "#000000"},
"encoding": {
"theta": {"field": "p", "type": "quantitative", "stack": null, "scale": {"domain": [0, 59374]}},
"radius": {"value": 322},
"angle": {"field": "p", "type": "quantitative", "scale": {"domain": [0, 59374], "range": [0, 360]}},
"text": {"field": "p", "type": "quantitative", "format": "d"}
}
},
{
"data": {"values": [{"p":20000},{"p":30000},{"p":40000}]},
"mark": {"type": "text", "align": "right", "baseline": "bottom", "dx": -5, "fontSize": 18, "font": "Liberation Sans", "color": "#000000"},
"encoding": {
"theta": {"field": "p", "type": "quantitative", "stack": null, "scale": {"domain": [0, 59374]}},
"radius": {"value": 322},
"angle": {"field": "p", "type": "quantitative", "scale": {"domain": [0, 59374], "range": [-180, 180]}},
"text": {"field": "p", "type": "quantitative", "format": "d"}
}
},
{
"data": {"values": [{"t": "S. Enteritidis plasmid pSLA5"}]},
"mark": {"type": "text", "fontSize": 19, "font": "Liberation Sans", "baseline": "alphabetic", "dy": -8, "color": "#000000"},
"encoding": {"text": {"field": "t"}}
},
{
"data": {"values": [{"t": "59,374 bp"}]},
"mark": {"type": "text", "fontSize": 19, "font": "Liberation Sans", "baseline": "alphabetic", "dy": 28, "color": "#000000"},
"encoding": {"text": {"field": "t"}}
}
]
}
]
}
